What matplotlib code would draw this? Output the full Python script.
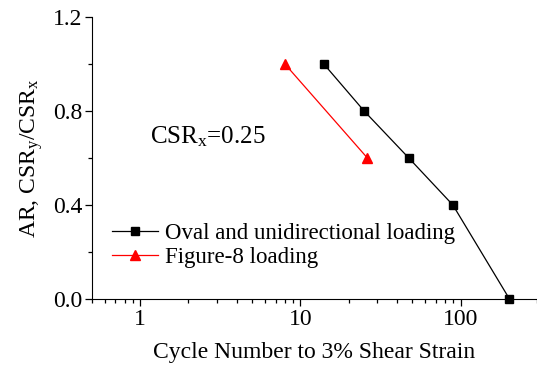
import matplotlib
matplotlib.use("Agg")
import matplotlib.pyplot as plt
from matplotlib.ticker import MultipleLocator, LogLocator, NullFormatter, FixedLocator

plt.rcParams['font.family'] = ['Liberation Serif', 'DejaVu Serif']
plt.rcParams['mathtext.fontset'] = 'custom'
plt.rcParams['mathtext.rm'] = 'Liberation Serif'
plt.rcParams['mathtext.it'] = 'Liberation Serif:italic'

# Oval and unidirectional loading
oval_n = [14, 25, 47.5, 89.5, 202]
oval_ar = [1.0, 0.8, 0.6, 0.4, 0.0]

# Figure-8 loading
fig8_n = [8.0, 26.2]
fig8_ar = [1.0, 0.6]

fig = plt.figure(figsize=(5.37, 3.66), dpi=100)
ax = fig.add_axes([92 / 537, 67 / 366, 445 / 537, 282 / 366])

ax.plot(oval_n, oval_ar, color='black', lw=0.9, marker='s', ms=5.5,
        label='Oval and unidirectional loading', clip_on=False, zorder=3)
ax.plot(fig8_n, fig8_ar, color='red', lw=0.9, marker='^', ms=6.5,
        label='Figure-8 loading', clip_on=False, zorder=3)

ax.set_xscale('log')
ax.set_xlim(0.5, 300)
ax.set_ylim(0, 1.2)
ax.xaxis.set_major_locator(FixedLocator([1, 10, 100]))
ax.xaxis.set_major_formatter(matplotlib.ticker.FixedFormatter(['1', '10', '100']))
ax.xaxis.set_minor_locator(LogLocator(base=10, subs=range(2, 10), numticks=20))
ax.xaxis.set_minor_formatter(NullFormatter())
ax.yaxis.set_major_locator(MultipleLocator(0.4))
ax.yaxis.set_minor_locator(MultipleLocator(0.2))
ax.yaxis.set_major_formatter(matplotlib.ticker.FormatStrFormatter('%.1f'))

ax.spines['top'].set_visible(False)
ax.spines['right'].set_visible(False)
ax.tick_params(which='both', direction='out', labelsize=17, width=0.9)
ax.tick_params(which='major', length=5, pad=2)
ax.tick_params(which='minor', length=3)

ax.set_xlabel('Cycle Number to 3% Shear Strain', fontsize=17, labelpad=9)
ax.set_ylabel(r'AR, CSR$_\mathrm{y}$/CSR$_\mathrm{x}$', fontsize=17, labelpad=6)

ax.text(0.13, 0.553, r'CSR$_\mathrm{x}$=0.25', transform=ax.transAxes, fontsize=18)

ax.legend(loc='lower left', bbox_to_anchor=(0.045, 0.11), frameon=False, fontsize=16.5,
          handlelength=2.0, handletextpad=0.3, labelspacing=0.12, borderaxespad=0,
          borderpad=0)

fig.savefig('out.png', dpi=100)
